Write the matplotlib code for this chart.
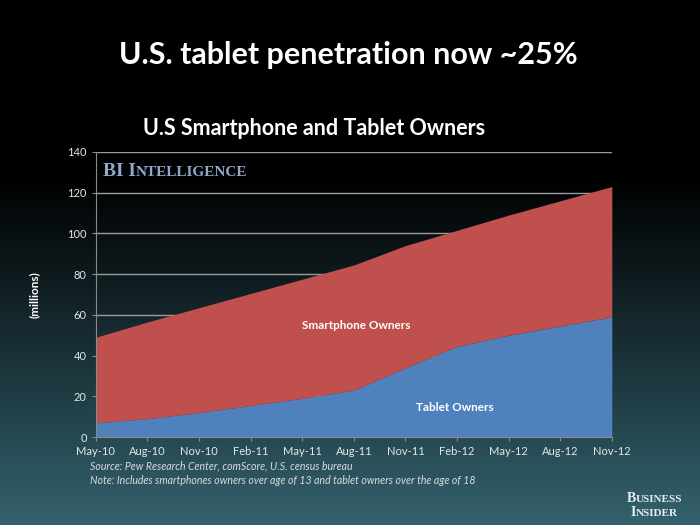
import numpy as np
import matplotlib.pyplot as plt
from matplotlib.offsetbox import TextArea, HPacker, AnchoredOffsetbox

months = ["May-10", "Aug-10", "Nov-10", "Feb-11", "May-11", "Aug-11",
          "Nov-11", "Feb-12", "May-12", "Aug-12", "Nov-12"]
tablet = [7, 9, 12, 15.5, 19, 23, 34, 44.5, 50, 54.5, 59]
total = [49, 56.5, 63.5, 70.5, 77.5, 84.5, 94, 101.5, 109, 116, 123]

plt.rcParams['font.family'] = ['Lato', 'DejaVu Sans']

fig = plt.figure(figsize=(7, 5.25), dpi=100)

# background gradient
bg = fig.add_axes([0, 0, 1, 1], zorder=-10)
t = np.linspace(0, 1, 256)
t = np.clip((t - 0.33) / 0.67, 0, 1) ** 1.05
top = np.array([0, 0, 0])
bot = np.array([52, 98, 110]) / 255
grad = top[None, :] * (1 - t[:, None]) + bot[None, :] * t[:, None]
bg.imshow(grad[:, None, :], aspect='auto', extent=[0, 1, 0, 1], origin='upper')
bg.set_axis_off()

fig.text(0.498, 0.895, "U.S. tablet penetration now ~25%", color="white",
         fontsize=22, fontweight="bold", ha="center", va="center")
fig.text(0.449, 0.755, "U.S Smartphone and Tablet Owners", color="white",
         fontsize=15.5, fontweight="bold", ha="center", va="center")

ax = fig.add_axes([0.137, 0.1676, 0.737, 0.543])
ax.set_facecolor("none")
x = np.arange(len(months))
ax.fill_between(x, 0, tablet, color="#4f81bd", lw=0, zorder=3)
ax.fill_between(x, tablet, total, color="#c0504d", lw=0, zorder=3)
ax.set_xlim(0, len(months) - 1)
ax.set_ylim(0, 140)
ax.set_yticks(range(0, 141, 20))
ax.set_xticks(x)
ax.set_xticklabels(months)
ax.grid(axis="y", color="#9a9a9a", lw=1, zorder=1)
for s in ["top", "right"]:
    ax.spines[s].set_visible(False)
for s in ["left", "bottom"]:
    ax.spines[s].set_color("#8a8a8a")
    ax.spines[s].set_zorder(4)
ax.tick_params(colors="#8a8a8a", labelcolor="#e6e6e6", labelsize=8, length=3)
ax.set_ylabel("(millions)", color="white", fontsize=8.5, fontweight="bold", labelpad=20)

ax.text(5.05, 55, "Smartphone Owners", color="white", fontsize=8.5,
        fontweight="bold", ha="center", va="center", zorder=5)
ax.text(6.95, 14.5, "Tablet Owners", color="white", fontsize=8.5,
        fontweight="bold", ha="center", va="center", zorder=5)

# BI Intelligence logo in small caps
sc = "#8fa9cc"
ff = "Liberation Serif"
logo = HPacker(children=[
    TextArea("BI I", textprops=dict(color=sc, fontsize=14, family=ff, fontweight="bold")),
    TextArea("NTELLIGENCE", textprops=dict(color=sc, fontsize=11, family=ff, fontweight="bold")),
], align="baseline", pad=0, sep=0)
ab = AnchoredOffsetbox(loc="center left", child=logo, frameon=False,
                       bbox_to_anchor=(0.147, 0.674), bbox_transform=fig.transFigure,
                       borderpad=0, pad=0)
fig.add_artist(ab)

fig.text(0.129, 0.112, "Source: Pew Research Center, comScore, U.S. census bureau",
         color="#d8dde0", fontsize=7.6, style="italic", va="center")
fig.text(0.129, 0.085, "Note: Includes smartphones owners over age of 13 and tablet owners over the age of 18",
         color="#d8dde0", fontsize=7.6, style="italic", va="center")

for i, w in enumerate(["USINESS", "NSIDER"]):
    first = "B" if i == 0 else "I"
    box = HPacker(children=[
        TextArea(first, textprops=dict(color="#e8eef0", fontsize=10, family=ff, fontweight="bold")),
        TextArea(w, textprops=dict(color="#e8eef0", fontsize=8, family=ff, fontweight="bold")),
    ], align="baseline", pad=0, sep=0)
    a = AnchoredOffsetbox(loc="center", child=box, frameon=False,
                          bbox_to_anchor=(0.935, 0.050 - i * 0.027),
                          bbox_transform=fig.transFigure, borderpad=0, pad=0)
    fig.add_artist(a)

fig.savefig("out.png", dpi=100)
